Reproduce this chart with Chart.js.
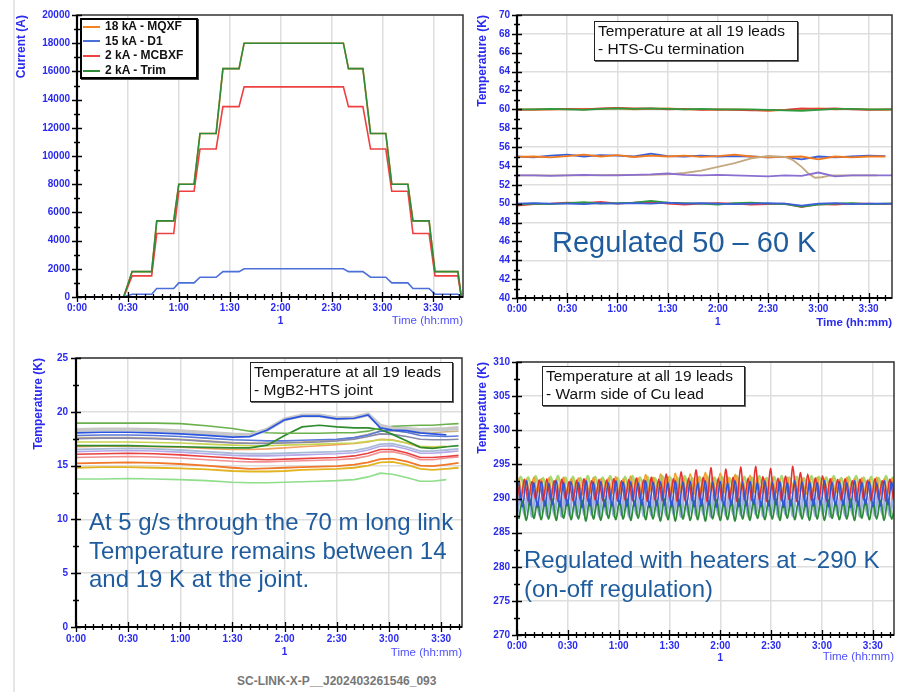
<!DOCTYPE html>
<html lang="en">
<head>
<meta charset="UTF-8">
<title>SC-Link test: currents and lead temperatures</title>
<script src="https://cdn.jsdelivr.net/npm/chart.js"></script>
<style>
  body { margin: 0; width: 917px; height: 692px; background: #fff; position: relative; overflow: hidden;
         font-family: Arial, "Liberation Sans", sans-serif; }
  canvas { position: absolute; }
  .edge { position: absolute; left: 13px; top: 0; width: 2px; height: 692px; background: #e3e8e3; }
  .box { position: absolute; background: #fff; border: 1.5px solid #222; box-shadow: 1px 1px 0 #666;
         font-size: 15.5px; line-height: 18px; color: #111; padding: 0 0 0 3px; box-sizing: border-box; white-space: nowrap; }
  .note { position: absolute; color: #1f5c9e; white-space: nowrap; }
  #legend { position: absolute; left: 80px; top: 18px; width: 118px; height: 61px; background: #fff;
            border: 2px solid #000; box-shadow: 1px 1px 0 #444; box-sizing: border-box; }
  #legend .row { position: absolute; left: 1px; font-size: 12px; font-weight: bold; color: #111; white-space: nowrap; }
  #legend .sw { display: inline-block; width: 17px; height: 2px; vertical-align: middle; margin-right: 5px; }
  .foot { position: absolute; left: 237px; top: 674px; font-size: 12px; font-weight: bold; color: #777; }
</style>
</head>
<body>
<div class="edge"></div>
<canvas id="c1" width="470" height="333" style="left:0;top:0"></canvas>
<canvas id="c2" width="457" height="334" style="left:460px;top:0"></canvas>
<canvas id="c3" width="470" height="323" style="left:0;top:340px"></canvas>
<canvas id="c4" width="457" height="331" style="left:460px;top:340px"></canvas>

<div id="legend"></div>
<div class="box" style="left:594px;top:21px;width:204px;height:40px">Temperature at all 19 leads<br>- HTS-Cu termination</div>
<div class="box" style="left:250px;top:362px;width:203px;height:40px">Temperature at all 19 leads<br>- MgB2-HTS joint</div>
<div class="box" style="left:542px;top:366px;width:203px;height:40px">Temperature at all 19 leads<br>- Warm side of Cu lead</div>

<div class="note" style="left:552px;top:228px;font-size:29px;line-height:29px">Regulated 50 – 60 K</div>
<div class="note" style="left:89px;top:508px;font-size:24px;line-height:28.5px">At 5 g/s through the 70 m long link<br>Temperature remains between 14<br>and 19 K at the joint.</div>
<div class="note" style="left:524px;top:545px;font-size:24px;line-height:29px">Regulated with heaters at ~290 K<br>(on-off regulation)</div>
<div class="foot">SC-LINK-X-P__J202403261546_093</div>

<script>
// ---------- panel 1: currents (A) ----------
const p1Names = ['18 kA - MQXF', '15 kA - D1', '2 kA - MCBXF', '2 kA - Trim'];
const p1Times = [0, 27.5, 32.5, 44, 47, 57, 60, 69, 72.5, 82, 86, 95.5, 98.5, 157, 160, 168.5, 173, 182, 185.5, 195, 198, 207.5, 211, 224.5, 226.5];
const p1Mqxf  = [0, 0, 1800, 1800, 5400, 5400, 8000, 8000, 11600, 11600, 16200, 16200, 18000, 18000, 16200, 16200, 11600, 11600, 8000, 8000, 5400, 5400, 1800, 1800, 0];
const p1D1    = [0, 0, 200, 200, 600, 600, 1000, 1000, 1400, 1400, 1800, 1800, 2000, 2000, 1800, 1800, 1400, 1400, 1000, 1000, 600, 600, 200, 200, 0];
const p1Mcbxf = [0, 0, 1500, 1500, 4500, 4500, 7500, 7500, 10500, 10500, 13500, 13500, 14900, 14900, 13500, 13500, 10500, 10500, 7500, 7500, 4500, 4500, 1500, 1500, 0];
const p1Trim  = [0, 0, 1800, 1800, 5400, 5400, 8000, 8000, 11600, 11600, 16200, 16200, 18000, 18000, 16200, 16200, 11600, 11600, 8000, 8000, 5400, 5400, 1800, 1800, 0];

// ---------- panel 2: HTS-Cu termination (K) ----------
const p2Times    = [0, 10, 20, 30, 40, 50, 60, 70, 80, 90, 100, 110, 120, 130, 140, 150, 160, 170, 180, 190, 200, 210, 220, 224];
const p2Orange60 = [60.0, 59.95, 60.0, 60.0, 60.05, 60.05, 60.1, 60.0, 60.05, 60.1, 60.0, 60.0, 59.95, 60.0, 59.95, 59.85, 59.95, 60.0, 60.1, 60.0, 60.05, 60.0, 59.95, 60.0];
const p2Red60    = [59.95, 60.0, 60.0, 60.05, 60.0, 60.1, 60.15, 60.1, 60.1, 60.0, 60.05, 59.95, 60.0, 59.95, 59.9, 59.9, 59.95, 60.1, 60.05, 60.1, 60.0, 59.95, 60.0, 60.0];
const p2Green60  = [60.0, 60.0, 60.05, 60.0, 59.95, 60.05, 60.1, 60.05, 60.1, 60.05, 60.0, 60.05, 60.0, 60.0, 60.0, 59.95, 59.9, 59.85, 59.95, 60.05, 60.05, 60.0, 60.0, 60.0];
const p2Blue55   = [55.0, 54.9, 55.1, 55.2, 55.0, 55.15, 55.1, 55.0, 55.3, 55.05, 55.0, 55.1, 55.0, 55.05, 55.0, 54.9, 54.95, 54.7, 55.0, 54.9, 55.0, 55.1, 55.05, null];
const p2Orange55 = [54.95, 55.0, 54.9, 55.05, 55.2, 55.0, 55.15, 54.95, 55.1, 55.0, 55.1, 54.95, 55.05, 55.2, 55.0, 54.9, 54.95, 55.0, 54.7, 55.0, 54.9, 55.0, 55.0, null];
const p2Purple53 = [53.0, 53.0, 52.95, 53.0, 53.05, 53.0, 53.0, 53.05, 53.1, 53.2, 53.05, 53.0, 53.05, 53.0, 52.95, 52.9, 53.0, 52.95, 53.3, 52.9, 53.0, 53.0, 53.0, 53.0];
const p2Red50    = [49.8, 49.95, 50.0, 50.1, 50.05, 50.2, 50.0, 50.1, 50.2, 50.0, 49.9, 50.0, 50.05, 50.0, 49.9, 49.95, 50.0, 49.65, 49.95, 49.9, 50.0, 50.0, 49.95, 50.0];
const p2Green50  = [49.9, 50.0, 49.95, 50.05, 50.15, 50.0, 50.05, 50.1, 50.3, 50.1, 50.05, 50.0, 49.9, 50.05, 50.1, 50.0, 49.95, 49.7, 49.9, 50.0, 50.05, 49.95, 50.0, 50.0];
const p2Blue50   = [50.0, 50.05, 50.0, 50.0, 49.95, 50.05, 50.0, 50.05, 50.0, 50.1, 50.0, 50.05, 50.0, 49.95, 50.0, 50.05, 50.0, 49.8, 50.0, 50.05, 49.95, 50.0, 50.0, 50.0];
const p2TanTimes = [0, 20, 40, 60, 80, 90, 100, 110, 120, 130, 140, 150, 160, 165, 170, 174, 178, 182, 186, 190, 200, 215];
const p2Tan      = [53.0, 53.0, 53.0, 53.05, 53.05, 53.1, 53.25, 53.5, 53.9, 54.3, 54.8, 55.05, 54.95, 54.6, 53.9, 53.2, 52.75, 52.8, 52.95, 53.0, 53.0, 53.0];

// ---------- panel 3: MgB2-HTS joint (K) ----------
const p3Times      = [0, 15, 30, 45, 60, 75, 90, 100, 110, 120, 130, 140, 150, 160, 168, 175, 182, 190, 198, 205, 213, 220];
const p3LightGreen = [13.75, 13.75, 13.8, 13.75, 13.7, 13.6, 13.45, 13.4, 13.4, 13.45, 13.5, 13.55, 13.6, 13.7, 13.95, 14.3, 14.2, 13.9, 13.55, 13.55, 13.7, null];
const p3Gold       = [14.8, 14.85, 14.85, 14.8, 14.75, 14.65, 14.5, 14.45, 14.45, 14.5, 14.6, 14.65, 14.7, 14.8, 15.0, 15.3, 15.35, 15.1, 14.7, 14.6, 14.7, 14.8];
const p3Orange     = [15.2, 15.25, 15.3, 15.25, 15.15, 15.0, 14.8, 14.7, 14.75, 14.8, 14.85, 14.9, 14.95, 15.1, 15.3, 15.6, 15.65, 15.4, 15.0, 14.95, 15.1, 15.25];
const p3Salmon     = [15.75, 15.8, 15.85, 15.8, 15.7, 15.55, 15.4, 15.35, 15.35, 15.4, 15.45, 15.5, 15.55, 15.65, 15.9, 16.25, 16.3, 16.0, 15.55, 15.55, 15.7, 15.8];
const p3Red        = [16.05, 16.1, 16.15, 16.1, 16.0, 15.85, 15.7, 15.6, 15.55, 15.6, 15.65, 15.7, 15.75, 15.9, 16.15, 16.5, 16.5, 16.2, 15.75, 15.75, 15.85, 15.95];
const p3Lavender   = [16.3, 16.35, 16.4, 16.35, 16.25, 16.1, 15.95, 15.9, 15.9, 15.95, 16.0, 16.05, 16.1, 16.2, 16.45, 16.8, 16.85, 16.55, 16.15, 16.15, 16.25, 16.35];
const p3Steel      = [16.5, 16.55, 16.6, 16.55, 16.45, 16.3, 16.15, 16.1, 16.1, 16.15, 16.2, 16.25, 16.3, 16.4, 16.65, 17.0, 17.05, 16.75, 16.35, 16.35, 16.45, 16.55];
const p3Orange2    = [16.75, 16.8, 16.8, 16.75, 16.7, 16.6, 16.5, 16.5, 16.55, 16.65, 16.75, 16.85, 16.95, 17.05, 17.2, 17.45, 17.4, 17.1, 16.7, 16.65, 16.75, null];
const p3YellowGrn  = [17.2, 17.2, 17.2, 17.15, 17.1, 17.0, 16.9, 16.85, 16.85, 16.9, 16.95, 17.0, 17.05, 17.1, 17.25, 17.4, 17.35, 17.1, 16.8, 16.75, 16.8, null];
const p3Tan        = [17.6, 17.6, 17.6, 17.55, 17.45, 17.3, 17.15, 17.1, 17.1, 17.15, 17.2, 17.3, 17.4, 17.6, 17.9, 18.2, 18.25, 18.1, 18.0, 18.05, 18.15, 18.2];
const p3Slate      = [17.5, 17.55, 17.55, 17.5, 17.4, 17.25, 17.1, 17.05, 17.05, 17.1, 17.15, 17.2, 17.3, 17.45, 17.7, 17.95, 17.9, 17.7, 17.45, 17.4, 17.4, 17.45];
const p3Blue2      = [17.8, 17.85, 17.85, 17.8, 17.7, 17.55, 17.4, 17.35, 17.3, 17.3, 17.35, 17.4, 17.45, 17.6, 17.85, 18.2, 18.3, 18.1, 17.8, 17.75, 17.7, 17.75];
const p3DarkGreen  = [16.85, 16.85, 16.85, 16.8, 16.75, 16.7, 16.65, 16.65, 16.9, 17.8, 18.6, 18.75, 18.6, 18.5, 18.5, 18.35, 17.9, 17.3, 16.7, 16.6, 16.75, 16.85];
const p3Green      = [18.95, 18.95, 18.95, 18.95, 18.9, 18.7, 18.45, 18.2, 18.05, 18.0, 18.0, 18.0, 18.05, 18.05, 18.2, 18.5, 18.65, 18.7, 18.75, 18.75, 18.85, 18.9];
const p3Gray       = [18.3, 18.35, 18.35, 18.3, 18.2, 18.05, 17.9, 17.85, 18.35, 19.3, 19.65, 19.65, 19.4, 19.45, 19.75, 18.7, 18.45, 18.4, 18.3, 18.35, 18.4, 18.5];
const p3BlueHigh   = [18.05, 18.1, 18.1, 18.05, 17.95, 17.8, 17.65, 17.7, 18.3, 19.25, 19.6, 19.6, 19.35, 19.4, 19.7, 18.5, 18.3, 18.25, 18.05, 17.95, 17.85, null];

// ---------- panel 4: warm side of Cu lead (K), heater on-off cycles ----------
const p4Step = 2.2;   // minutes between turning points of the on-off cycles
const p4LightGreen = [
  291.4,293.2, 291.6,293.1, 291.3,293.3, 291.5,293.0, 291.4,293.2, 291.6,293.3, 291.3,293.1, 291.5,293.2, 291.4,293.0, 291.6,293.3,
  291.3,293.2, 291.5,293.1, 291.4,293.3, 291.6,293.0, 291.3,293.2, 291.5,293.3, 291.4,293.1, 291.6,293.2, 291.3,293.0, 291.5,293.3,
  291.4,293.2, 291.6,293.1, 291.3,293.3, 291.5,293.0, 291.4,293.2, 291.6,293.3, 291.3,293.1, 291.5,293.2, 291.4,293.0, 291.6,293.3,
  291.3,293.2, 291.5,293.1, 291.4,293.3, 291.6,293.0, 291.3,293.2, 291.5,293.3, 291.4,293.1, 291.6,293.2, 291.3,293.0, 291.5,293.3,
  291.4,293.2, 291.6,293.1, 291.3,293.3, 291.5,293.0, 291.4,293.2, 291.6,293.3, 291.3,293.1, 291.5,293.2, 291.4,293.0, 291.6,293.3,
  291.4,293.2];
const p4Orange = [
  293.0,290.7, 292.8,290.5, 293.1,290.8, 292.9,290.6, 293.0,290.7, 292.8,290.9, 293.1,290.6, 292.9,290.8, 293.0,290.5, 292.8,290.7,
  293.1,290.6, 292.9,290.8, 293.0,290.7, 293.2,290.5, 292.9,290.8, 293.3,290.6, 293.0,290.7, 293.5,290.9, 293.1,290.6, 293.6,290.8,
  293.2,290.7, 293.7,290.5, 293.1,290.8, 293.6,290.6, 293.2,290.7, 293.8,290.9, 293.1,290.6, 293.7,290.8, 293.2,290.5, 293.5,290.7,
  293.0,290.6, 293.4,290.8, 293.1,290.7, 292.9,290.5, 293.0,290.8, 292.8,290.6, 293.1,290.7, 292.9,290.9, 293.0,290.6, 292.8,290.8,
  293.1,290.7, 292.9,290.5, 293.0,290.8, 292.8,290.6, 293.1,290.7, 292.9,290.9, 293.0,290.6, 292.8,290.8, 293.1,290.5, 292.9,290.7,
  293.0,290.6];
const p4Lavender = [
  288.4,290.9, 288.2,290.7, 288.5,291.0, 288.3,290.8, 288.4,290.9, 288.2,291.1, 288.5,290.8, 288.3,290.9, 288.4,290.7, 288.2,291.0,
  288.5,290.9, 288.3,290.8, 288.4,291.0, 288.2,290.7, 288.5,290.9, 288.3,291.1, 288.4,290.8, 288.2,290.9, 288.5,290.7, 288.3,291.0,
  288.4,290.9, 288.2,290.8, 288.5,291.0, 288.3,290.7, 288.4,290.9, 288.2,291.1, 288.5,290.8, 288.3,290.9, 288.4,290.7, 288.2,291.0,
  288.5,290.9, 288.3,290.8, 288.4,291.0, 288.2,290.7, 288.5,290.9, 288.3,291.1, 288.4,290.8, 288.2,290.9, 288.5,290.7, 288.3,291.0,
  288.4,290.9, 288.2,290.8, 288.5,291.0, 288.3,290.7, 288.4,290.9, 288.2,291.1, 288.5,290.8, 288.3,290.9, 288.4,290.7, 288.2,291.0,
  288.4,290.9];
const p4LightBlue = [
  287.4,290.2, 287.6,290.0, 287.3,290.3, 287.5,290.1, 287.4,290.2, 287.6,290.0, 287.3,290.3, 287.5,290.1, 287.4,290.2, 287.6,290.0,
  287.5,290.1, 287.3,290.2, 287.6,290.0, 287.4,290.3, 287.5,290.1, 287.3,290.2, 287.6,290.0, 287.4,290.3, 287.5,290.1, 287.3,290.2,
  287.4,290.2, 287.6,290.0, 287.3,290.3, 287.5,290.1, 287.4,290.2, 287.6,290.0, 287.3,290.3, 287.5,290.1, 287.4,290.2, 287.6,290.0,
  287.5,290.1, 287.3,290.2, 287.6,290.0, 287.4,290.3, 287.5,290.1, 287.3,290.2, 287.6,290.0, 287.4,290.3, 287.5,290.1, 287.3,290.2,
  287.4,290.2, 287.6,290.0, 287.3,290.3, 287.5,290.1, 287.4,290.2, 287.6,290.0, 287.3,290.3, 287.5,290.1, 287.4,290.2, 287.6,290.0,
  287.4,290.2];
const p4DarkGreen = [
  287.0,289.6, 286.8,289.8, 287.1,289.5, 286.9,289.7, 287.0,289.9, 286.8,289.6, 287.1,289.8, 286.9,289.5, 287.0,289.7, 286.7,289.9,
  287.0,289.6, 286.8,289.8, 287.1,289.5, 286.9,289.7, 287.0,289.9, 286.8,289.6, 287.1,289.8, 286.9,289.5, 287.0,289.7, 286.7,289.9,
  286.9,289.6, 286.7,289.8, 287.0,289.5, 286.8,289.7, 286.9,289.9, 286.7,289.6, 287.0,289.8, 286.8,289.5, 286.9,289.7, 286.7,289.9,
  287.0,289.6, 286.8,289.8, 287.1,289.5, 286.9,289.7, 287.0,289.9, 286.8,289.6, 287.1,289.8, 286.9,289.5, 287.0,289.7, 286.8,289.9,
  287.0,289.6, 286.8,289.8, 287.1,289.5, 286.9,289.7, 287.0,289.9, 286.8,289.6, 287.1,289.8, 286.9,289.5, 287.0,289.7, 286.8,289.9,
  287.0,289.6];
const p4Red = [
  292.6,289.8, 292.8,289.6, 292.5,289.9, 292.7,289.7, 292.9,289.8, 292.6,289.6, 292.8,289.9, 292.5,289.7, 292.7,289.8, 292.9,289.6,
  292.6,289.8, 292.8,289.7, 292.7,289.9, 292.9,289.6, 292.6,289.8, 292.8,289.7, 293.0,289.9, 292.7,289.6, 293.1,289.8, 292.8,289.7,
  293.6,289.9, 292.9,289.6, 293.9,289.8, 293.0,289.7, 294.2,289.9, 293.1,289.6, 294.5,289.8, 293.0,289.7, 294.3,289.9, 293.1,289.6,
  294.6,289.8, 293.0,289.7, 294.7,289.9, 293.2,289.6, 294.4,289.8, 293.0,289.7, 293.3,289.9, 294.7,289.6, 293.8,289.8, 293.6,289.7,
  293.0,289.9, 293.3,289.6, 292.9,289.8, 292.8,289.7, 292.9,289.9, 292.6,289.6, 292.8,289.8, 292.7,289.7, 292.9,289.9, 292.6,289.6,
  292.8,289.8];
const p4Blue = [
  292.4,288.8, 292.6,289.0, 292.3,288.7, 292.5,288.9, 292.2,289.1, 292.6,288.8, 292.4,288.9, 292.5,289.0, 292.3,288.7, 292.6,288.9,
  292.4,289.0, 292.5,288.8, 292.3,288.9, 292.6,289.1, 292.4,288.8, 292.5,288.9, 292.3,289.0, 292.6,288.7, 292.4,288.9, 292.5,289.0,
  292.3,288.8, 292.6,288.9, 292.4,289.1, 292.5,288.8, 292.3,288.9, 292.6,289.0, 292.4,288.7, 292.5,288.9, 292.3,289.0, 292.6,288.8,
  292.4,288.9, 292.5,289.1, 292.3,288.8, 292.6,288.9, 292.4,289.0, 292.5,288.7, 292.3,288.9, 292.6,289.0, 292.4,288.8, 292.5,288.9,
  292.3,289.1, 292.6,288.8, 292.4,288.9, 292.5,289.0, 292.3,288.7, 292.6,288.9, 292.4,289.0, 292.5,288.8, 292.3,288.9, 292.6,289.1,
  292.4,288.9];
// turning points of the two phase groups, half a step apart
const p4TimesA = p4Red.map((_, i) => i * p4Step);
const p4TimesB = p4Red.map((_, i) => i * p4Step + p4Step / 2);

// ---------- shared look ----------
const FONT = "Arial, 'Liberation Sans', sans-serif";
const tickBlue = '#2a2af0';
const gridGray = '#dedede';

function fmtTime(v) {
  const h = Math.floor(v / 60), m = Math.round(v % 60);
  return h + ':' + String(m).padStart(2, '0');
}

function line(times, values, color, width, tension) {
  return {
    data: values.map((v, i) => ({ x: times[i], y: v })),
    borderColor: color, borderWidth: width || 1.6,
    pointRadius: 0, fill: false, tension: tension || 0, spanGaps: false
  };
}

// frame, crossing tick marks (major + minor) and the day marker "1"
const frameTicks = {
  id: 'frameTicks',
  afterDraw(chart, args, o) {
    const { ctx, chartArea: a, scales: { x, y } } = chart;
    ctx.save();
    ctx.strokeStyle = '#333'; ctx.lineWidth = 1.5;
    ctx.strokeRect(a.left, a.top, a.width, a.height);
    ctx.strokeStyle = '#000'; ctx.lineWidth = 2.2;
    ctx.beginPath();
    ctx.moveTo(a.left, a.top); ctx.lineTo(a.left, a.bottom); ctx.lineTo(a.right, a.bottom);
    ctx.stroke();

    ctx.lineWidth = 1.3;
    ctx.beginPath();
    for (let i = 0; ; i++) {
      const v = x.min + i * o.xMinor;
      if (v > x.max + 1e-6) break;
      const px = Math.round(x.getPixelForValue(v)) + 0.5;
      const h = (Math.abs(v % 30) < 1e-6) ? 5 : 3;
      ctx.moveTo(px, a.bottom - h); ctx.lineTo(px, a.bottom + h);
    }
    for (let i = 0; ; i++) {
      const v = y.min + i * o.yMinor;
      if (v > y.max + 1e-6) break;
      const py = Math.round(y.getPixelForValue(v)) + 0.5;
      const h = y.ticks.some(t => Math.abs(t.value - v) < 1e-6) ? 5 : 3;
      ctx.moveTo(a.left - h, py); ctx.lineTo(a.left + h, py);
    }
    ctx.stroke();

    ctx.fillStyle = tickBlue;
    ctx.font = 'bold 10px ' + FONT;
    ctx.textAlign = 'center'; ctx.textBaseline = 'middle';
    ctx.fillText('1', x.getPixelForValue(120), a.bottom + o.dayOffset);
    ctx.restore();
  }
};

function makeChart(id, p, datasets) {
  // earlier datasets are drawn behind later ones
  datasets.forEach((d, i) => { d.order = datasets.length - i; });
  return new Chart(document.getElementById(id), {
    type: 'line',
    data: { datasets },
    plugins: [frameTicks],
    options: {
      responsive: false, animation: false, events: [],
      layout: { padding: { left: 0, top: p.top, right: p.right, bottom: 2 } },
      plugins: {
        legend: { display: false }, tooltip: { enabled: false },
        frameTicks: { xMinor: 5, yMinor: p.yMinor, dayOffset: p.dayOffset }
      },
      scales: {
        x: {
          type: 'linear', min: 0, max: p.xMax,
          afterFit: s => { s.height = 34; },
          ticks: { stepSize: 30, includeBounds: false, callback: fmtTime, autoSkip: false, maxRotation: 0,
                   color: tickBlue, padding: p.xPad, font: { family: FONT, size: 10, weight: 'bold' } },
          grid: { color: gridGray, lineWidth: 1.5, drawTicks: false },
          border: { display: false },
          title: { display: true, text: 'Time (hh:mm)', align: 'end', color: p.timeColor,
                   font: { family: FONT, size: 11.5, weight: p.timeWeight },
                   padding: { top: 0, bottom: p.timePad } }
        },
        y: {
          min: p.yMin, max: p.yMax,
          afterFit: s => { s.width = p.left; },
          ticks: { stepSize: p.yStep, color: tickBlue, padding: p.yPad, callback: v => String(v),
                   font: { family: FONT, size: 10, weight: 'bold' } },
          grid: {
            drawTicks: false, lineWidth: 1.5,
            color: c => (p.yGrid && c.tick && Math.abs(c.tick.value % p.yGrid) < 1e-6) ? gridGray : 'rgba(0,0,0,0)'
          },
          border: { display: false },
          title: { display: true, text: p.yTitle, align: 'end', color: tickBlue,
                   font: { family: FONT, size: 12, weight: 'bold' },
                   padding: { top: p.titlePad, bottom: 0 } }
        }
      }
    }
  });
}

// panel 1
const p1Colors = ['#f58220', '#4a6fd8', '#ee4040', '#2e8b3a'];
makeChart('c1', {
  top: 15, right: 7, left: 77, xMax: 227.5, xPad: 5, timePad: 3.4, dayOffset: 24,
  timeColor: '#5050ff', timeWeight: 'normal',
  yMin: 0, yMax: 20000, yStep: 2000, yMinor: 1000, yGrid: 0, yPad: 7,
  yTitle: 'Current (A)', titlePad: 14.8
}, [
  line(p1Times, p1Mqxf, p1Colors[0], 1.6),
  line(p1Times, p1D1, p1Colors[1], 1.6),
  line(p1Times, p1Mcbxf, p1Colors[2], 1.6),
  line(p1Times, p1Trim, p1Colors[3], 1.6)
]);

const legend = document.getElementById('legend');
p1Names.forEach((name, i) => {
  const row = document.createElement('div');
  row.className = 'row';
  row.style.top = (-1 + i * 14.6) + 'px';
  row.innerHTML = '<span class="sw" style="background:' + p1Colors[i] + '"></span>' + name;
  legend.appendChild(row);
});

// panel 2
makeChart('c2', {
  top: 15, right: 25, left: 57, xMax: 224, xPad: 5, timePad: 2.4, dayOffset: 24,
  timeColor: tickBlue, timeWeight: 'bold',
  yMin: 40, yMax: 70, yStep: 2, yMinor: 1, yGrid: 4, yPad: 7,
  yTitle: 'Temperature (K)', titlePad: 15.8
}, [
  line(p2Times, p2Orange60, '#f07a20', 1.8),
  line(p2Times, p2Red60, '#e83a3a', 1.8),
  line(p2Times, p2Green60, '#2e9a3e', 1.8),
  line(p2Times, p2Blue55, '#3a5fd8', 1.8),
  line(p2Times, p2Orange55, '#f07a20', 1.8),
  line(p2TanTimes, p2Tan, '#c4a882', 1.8),
  line(p2Times, p2Purple53, '#8a6fd0', 1.8),
  line(p2Times, p2Red50, '#e83a3a', 1.8),
  line(p2Times, p2Green50, '#2e9a3e', 1.8),
  line(p2Times, p2Blue50, '#3a5fd8', 1.8)
]);

// panel 3
makeChart('c3', {
  top: 18, right: 8, left: 76, xMax: 222, xPad: 6, timePad: 1.4, dayOffset: 25,
  timeColor: '#5050ff', timeWeight: 'normal',
  yMin: 0, yMax: 25, yStep: 5, yMinor: 2.5, yGrid: 5, yPad: 8,
  yTitle: 'Temperature (K)', titlePad: 31.8
}, [
  line(p3Times, p3LightGreen, '#8ede8a', 1.6),
  line(p3Times, p3Gold, '#e2b420', 1.8),
  line(p3Times, p3Orange, '#f07828', 1.8),
  line(p3Times, p3Salmon, '#f29090', 1.6),
  line(p3Times, p3Red, '#e84040', 1.6),
  line(p3Times, p3Lavender, '#b4a8e8', 1.6),
  line(p3Times, p3Steel, '#a8bcd8', 1.8),
  line(p3Times, p3Orange2, '#f4a060', 1.6),
  line(p3Times, p3YellowGrn, '#c8d450', 1.6),
  line(p3Times, p3Tan, '#c8b48c', 1.6),
  line(p3Times, p3Slate, '#8888a8', 1.6),
  line(p3Times, p3Blue2, '#5a78d8', 1.6),
  line(p3Times, p3DarkGreen, '#2e8b2e', 1.7),
  line(p3Times, p3Green, '#6ab04c', 1.6),
  line(p3Times, p3Gray, '#c8c8c8', 4),
  line(p3Times, p3BlueHigh, '#2a55e0', 1.7)
]);

// panel 4: rounded on-off cycles
makeChart('c4', {
  top: 22, right: 23, left: 57, xMax: 222.5, xPad: 5, timePad: 5.4, dayOffset: 23,
  timeColor: '#5050ff', timeWeight: 'normal',
  yMin: 270, yMax: 310, yStep: 5, yMinor: 2.5, yGrid: 5, yPad: 7,
  yTitle: 'Temperature (K)', titlePad: 15.8
}, [
  line(p4TimesA, p4LightGreen, '#a6d870', 2.4, 0.35),
  line(p4TimesB, p4Orange, '#f0a030', 1.6, 0.35),
  line(p4TimesA, p4Lavender, '#bdb6d8', 3, 0.35),
  line(p4TimesA, p4LightBlue, '#9ab4e6', 2, 0.35),
  line(p4TimesB, p4DarkGreen, '#2e8b3a', 1.8, 0.35),
  line(p4TimesA, p4Red, '#e83030', 1.6, 0.3),
  line(p4TimesB, p4Blue, '#2f55d4', 1.6, 0.35)
]);
</script>
</body>
</html>
